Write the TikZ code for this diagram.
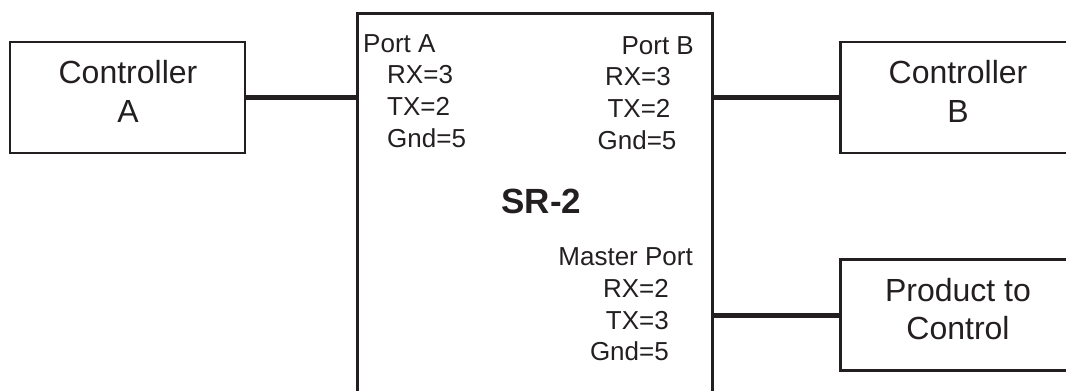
\documentclass[tikz,border=0pt]{standalone}
\usepackage{fontspec}
\setmainfont{Liberation Sans}
\definecolor{ink}{HTML}{231F20}
\begin{document}
\begin{tikzpicture}[x=1pt,y=-1pt,
  box/.style={draw=ink, line width=2.6pt, rectangle, inner sep=0pt},
  wire/.style={draw=ink, line width=5pt},
  big/.style={font=\fontsize{32}{40}\selectfont, text=ink, inner sep=0pt},
  small/.style={font=\fontsize{26}{32}\selectfont, text=ink, inner sep=0pt},
  title/.style={font=\fontsize{35}{40}\selectfont\bfseries, text=ink, inner sep=0pt}]
\useasboundingbox (0,0) rectangle (1066,391);
\clip (0,0) rectangle (1066,391);
% boxes
\node[box, minimum width=235pt, minimum height=111pt] (ctrlA) at (127.5,97.5) {};
\node[box, minimum width=355.4pt, minimum height=420pt] (sr2) at (535,223.3) {};
\node[box, minimum width=237pt, minimum height=111pt] (ctrlB) at (958.7,97.5) {};
\node[box, minimum width=237pt, minimum height=111.4pt] (prod) at (958.7,315) {};
% connectors
\draw[wire] (ctrlA.east) -- (ctrlA.east -| sr2.west);
\draw[wire] (ctrlB.west) -- (ctrlB.west -| sr2.east);
\draw[wire] (prod.west) -- (prod.west -| sr2.east);
% box texts
\node[big, anchor=base] (tA1) at (128,83) {Controller};
\node[big, anchor=base] (tA2) at (128,122) {A};
\node[big, anchor=base] (tB1) at (958,83) {Controller};
\node[big, anchor=base] (tB2) at (958,122) {B};
\node[big, anchor=base] (tP1) at (958,301) {Product to};
\node[big, anchor=base] (tP2) at (958,339) {Control};
\node[title, anchor=base] (tS) at (541.5,213) {SR-2};
% port A
\node[small, anchor=base west] (pa0) at (363,52) {Port A};
\node[small, anchor=base west] (pa1) at (387,83) {RX=3};
\node[small, anchor=base west] (pa2) at (387,115) {TX=2};
\node[small, anchor=base west] (pa3) at (387,147) {Gnd=5};
% port B
\node[small, anchor=base east] (pb0) at (694,54) {Port B};
\node[small, anchor=base] (pb1) at (638,85) {RX=3};
\node[small, anchor=base] (pb2) at (639,117) {TX=2};
\node[small, anchor=base] (pb3) at (637,149) {Gnd=5};
% master port
\node[small, anchor=base east] (pm0) at (693,265) {Master Port};
\node[small, anchor=base east] (pm1) at (669,297) {RX=2};
\node[small, anchor=base east] (pm2) at (669,329) {TX=3};
\node[small, anchor=base east] (pm3) at (669,360) {Gnd=5};
\end{tikzpicture}
\end{document}
